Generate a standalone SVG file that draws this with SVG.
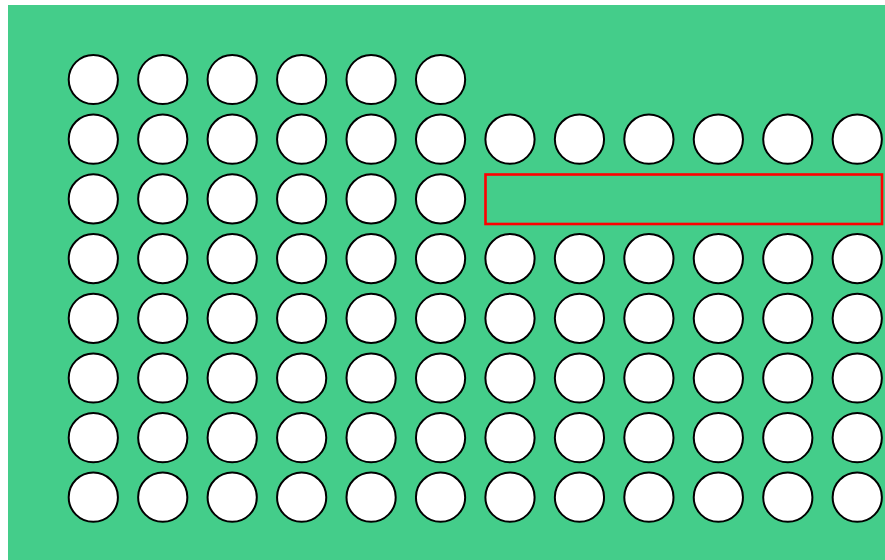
<svg xmlns="http://www.w3.org/2000/svg" width="885" height="560" viewBox="0 0 885 560">
<style>
.c{fill:#fff;stroke:#000;stroke-width:2}
</style>
<defs><circle id="d" class="c" r="24.6"/></defs>
<rect x="8" y="5" width="877" height="555" fill="#44cd8a"/>
<g id="row0" transform="translate(0,79.5)">
<use href="#d" x="93.3"/><use href="#d" x="162.75"/><use href="#d" x="232.2"/><use href="#d" x="301.65"/><use href="#d" x="371.1"/><use href="#d" x="440.55"/>
</g>
<g id="row1" transform="translate(0,139.2)">
<use href="#d" x="93.3"/><use href="#d" x="162.75"/><use href="#d" x="232.2"/><use href="#d" x="301.65"/><use href="#d" x="371.1"/><use href="#d" x="440.55"/><use href="#d" x="510"/><use href="#d" x="579.45"/><use href="#d" x="648.9"/><use href="#d" x="718.35"/><use href="#d" x="787.8"/><use href="#d" x="857.25"/>
</g>
<g id="row2" transform="translate(0,198.9)">
<use href="#d" x="93.3"/><use href="#d" x="162.75"/><use href="#d" x="232.2"/><use href="#d" x="301.65"/><use href="#d" x="371.1"/><use href="#d" x="440.55"/>
</g>
<g id="row3" transform="translate(0,258.6)">
<use href="#d" x="93.3"/><use href="#d" x="162.75"/><use href="#d" x="232.2"/><use href="#d" x="301.65"/><use href="#d" x="371.1"/><use href="#d" x="440.55"/><use href="#d" x="510"/><use href="#d" x="579.45"/><use href="#d" x="648.9"/><use href="#d" x="718.35"/><use href="#d" x="787.8"/><use href="#d" x="857.25"/>
</g>
<g id="row4" transform="translate(0,318.3)">
<use href="#d" x="93.3"/><use href="#d" x="162.75"/><use href="#d" x="232.2"/><use href="#d" x="301.65"/><use href="#d" x="371.1"/><use href="#d" x="440.55"/><use href="#d" x="510"/><use href="#d" x="579.45"/><use href="#d" x="648.9"/><use href="#d" x="718.35"/><use href="#d" x="787.8"/><use href="#d" x="857.25"/>
</g>
<g id="row5" transform="translate(0,378)">
<use href="#d" x="93.3"/><use href="#d" x="162.75"/><use href="#d" x="232.2"/><use href="#d" x="301.65"/><use href="#d" x="371.1"/><use href="#d" x="440.55"/><use href="#d" x="510"/><use href="#d" x="579.45"/><use href="#d" x="648.9"/><use href="#d" x="718.35"/><use href="#d" x="787.8"/><use href="#d" x="857.25"/>
</g>
<g id="row6" transform="translate(0,437.7)">
<use href="#d" x="93.3"/><use href="#d" x="162.75"/><use href="#d" x="232.2"/><use href="#d" x="301.65"/><use href="#d" x="371.1"/><use href="#d" x="440.55"/><use href="#d" x="510"/><use href="#d" x="579.45"/><use href="#d" x="648.9"/><use href="#d" x="718.35"/><use href="#d" x="787.8"/><use href="#d" x="857.25"/>
</g>
<g id="row7" transform="translate(0,497.2)">
<use href="#d" x="93.3"/><use href="#d" x="162.75"/><use href="#d" x="232.2"/><use href="#d" x="301.65"/><use href="#d" x="371.1"/><use href="#d" x="440.55"/><use href="#d" x="510"/><use href="#d" x="579.45"/><use href="#d" x="648.9"/><use href="#d" x="718.35"/><use href="#d" x="787.8"/><use href="#d" x="857.25"/>
</g>
<g id="highlight">
<rect x="485.5" y="174.5" width="396.5" height="49.5" fill="none" stroke="#f00" stroke-width="2.6"/>
</g>
</svg>
